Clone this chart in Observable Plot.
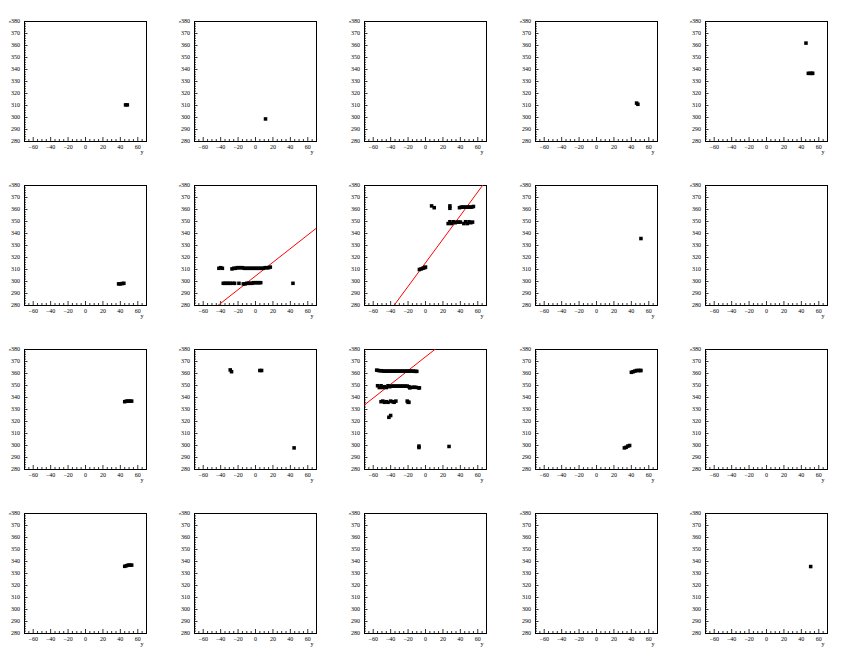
<!DOCTYPE html>
<html>
<head>
<meta charset="utf-8">
<script src="https://cdn.jsdelivr.net/npm/d3@7"></script>
<script src="https://cdn.jsdelivr.net/npm/@observablehq/plot@0.6"></script>
<style>
  html, body { margin: 0; padding: 0; background: #fff; }
  #canvas { position: relative; width: 851px; height: 656px; overflow: hidden; background: #fff; }
  .pad { position: absolute; }
</style>
</head>
<body>
<div id="canvas"></div>
<script>
// Hit positions per event window: [y, x] pairs, one array per pad (row-major, 5 x 4).
const hits00 = [[46, 310.5], [48, 310.5]];
const hits01 = [[11.5, 298.8]];
const hits02 = [];
const hits03 = [[46, 312], [47.5, 311]];
const hits04 = [[45.3, 362], [48, 336.8], [50, 336.8], [52, 336.8], [53, 336.8]];

const hits10 = [[38, 298], [40, 298], [42, 298.3], [44, 298.5]];
const hits11 = [
  [-42, 311], [-40, 311.5], [-38, 311],
  [-27, 310.5], [-25, 311], [-23, 311], [-21, 311.5], [-19, 311.5], [-17, 311.5], [-15, 311.5],
  [-13, 311], [-11, 311], [-9, 311], [-7, 311], [-5, 311], [-3, 311], [-1, 311], [1, 311],
  [3, 311], [5, 311], [7, 311], [9, 311], [11, 311.5], [13, 311.5], [15, 311.5], [17, 312],
  [-37, 298.5], [-35, 298.5], [-33, 298.5], [-31, 298.5], [-29, 298.5], [-26, 298.5], [-24, 298.5],
  [-19, 298.5], [-14, 298], [-12, 298], [-10, 298.5], [-8, 298.5], [-6, 298.5], [-4, 298.5],
  [-2, 299], [0, 299], [2, 299], [4, 299], [6, 299],
  [43, 298.5]
];
const hits12 = [
  [-7, 310], [-5, 310.5], [-3, 311], [-1, 311.5], [0, 312],
  [7, 363], [10, 361.5], [28, 361], [28, 363],
  [39, 361.5], [41, 362], [43, 362], [45, 362], [47, 362], [49, 362], [51, 362], [53, 362], [55, 362.5],
  [26, 348.3], [28, 349.8], [30, 348.3], [32, 349.8], [34, 349], [36, 349.5], [38, 349.5], [40, 349.5],
  [44, 348.3], [46, 349.8], [48, 348.3], [50, 349.8], [52, 349], [54, 349.5]
];
const hits13 = [[51, 335.8]];
const hits14 = [];

const hits20 = [[45, 336.5], [47, 337], [49, 337], [51, 337], [53, 337]];
const hits21 = [[-29, 363], [-27.5, 361.5], [5, 362.5], [7, 362.5], [44.3, 298]];
const hits22 = [
  [-56, 362.8], [-54, 362.5], [-52, 362.3], [-50, 362.3], [-48, 362], [-46, 362], [-44, 362],
  [-42, 362], [-40, 362], [-38, 362], [-36, 362], [-34, 362], [-32, 362], [-30, 362], [-28, 362],
  [-26, 362], [-24, 362], [-22, 362], [-20, 362], [-18, 362], [-16, 362], [-14, 362], [-12, 361.8], [-10, 361.8],
  [-55, 349.8], [-53, 348.3], [-51, 349.8], [-49, 348.3], [-47, 349], [-45, 348.3], [-43, 349.8],
  [-41, 349], [-39, 349.5], [-37, 349.5], [-35, 349.5], [-33, 349.5], [-31, 349.5], [-29, 349.5],
  [-27, 349.5], [-25, 349.5], [-23, 349.5], [-21, 349.5], [-19, 349], [-18, 348], [-15, 348.5],
  [-13, 348.5], [-11, 348.5], [-8, 348], [-7, 348],
  [-51, 336.5], [-49, 337], [-47, 336], [-45, 336.5], [-43, 336],
  [-40, 337], [-38, 336.5], [-36, 336], [-34, 337],
  [-21, 337], [-20, 336], [-19, 336],
  [-42, 323.5], [-40, 325],
  [-7.5, 298.3], [-7.5, 299.5], [27, 299.2]
];
const hits23 = [
  [40, 361], [42, 361.5], [44, 362], [46, 362.5], [48, 362.5], [50, 362.5], [51, 362.5],
  [32, 298], [34, 298.5], [36, 299.5], [38, 300]
];
const hits24 = [];

const hits30 = [[45, 336], [47, 336.5], [49, 337], [51, 337], [53, 337]];
const hits31 = [];
const hits32 = [];
const hits33 = [];
const hits34 = [[50.7, 335.8]];

// Straight-line track fits x = intercept + slope * y, keyed by pad index.
const fitPads = [6, 7, 12];
const fitIntercepts = [304.6, 315.6, 373.9];
const fitSlopes = [0.57, 0.984, 0.572];

// Axis definitions
const yDomain = [-70, 70];
const xDomain = [280, 380];
const yMajorTicks = [-60, -40, -20, 0, 20, 40, 60];
const yMinorTicks = [-70, -65, -55, -50, -45, -35, -30, -25, -15, -10, -5, 5, 10, 15, 25, 30, 35, 45, 50, 55, 65, 70];
const xMajorTicks = [280, 290, 300, 310, 320, 330, 340, 350, 360, 370, 380];
const xMinorTicks = [282, 284, 286, 288, 292, 294, 296, 298, 302, 304, 306, 308, 312, 314, 316, 318,
  322, 324, 326, 328, 332, 334, 336, 338, 342, 344, 346, 348, 352, 354, 356, 358,
  362, 364, 366, 368, 372, 374, 376, 378];

const pads = [
  hits00, hits01, hits02, hits03, hits04,
  hits10, hits11, hits12, hits13, hits14,
  hits20, hits21, hits22, hits23, hits24,
  hits30, hits31, hits32, hits33, hits34
];

const nCols = 5, canvasW = 851, padH = 164;
const padW = 170;
const mL = 24, mR = 24, mT = 21, mB = 23;
const innerW = padW - mL - mR, innerH = padH - mT - mB;

const canvas = document.getElementById("canvas");

pads.forEach((hits, i) => {
  const col = i % nCols, row = Math.floor(i / nCols);
  const points = hits.map(([y, x]) => ({y, x}));
  const fi = fitPads.indexOf(i);
  const fitLine = fi < 0 ? [] : yDomain.map(y => ({y, x: fitIntercepts[fi] + fitSlopes[fi] * y}));

  const chart = Plot.plot({
    width: padW,
    height: padH,
    marginLeft: mL, marginRight: mR, marginTop: mT, marginBottom: mB,
    style: {fontFamily: "'Liberation Serif', 'DejaVu Serif', serif", fontSize: "6px", background: "transparent", color: "black", overflow: "visible"},
    x: {domain: yDomain, ticks: yMajorTicks, tickSize: 0, tickPadding: 3, label: null},
    y: {domain: xDomain, ticks: xMajorTicks, tickSize: 0, tickPadding: 4.5, label: null},
    marks: [
      // inward-facing ticks along the bottom and left edges
      Plot.ruleX(yMinorTicks, {stroke: "black", strokeWidth: 0.8, insetTop: innerH - 2}),
      Plot.ruleX(yMajorTicks, {stroke: "black", strokeWidth: 0.8, insetTop: innerH - 4}),
      Plot.ruleY(xMinorTicks, {stroke: "black", strokeWidth: 0.8, insetRight: innerW - 2}),
      Plot.ruleY(xMajorTicks, {stroke: "black", strokeWidth: 0.8, insetRight: innerW - 3.5}),
      Plot.frame({stroke: "black", strokeWidth: 1}),
      Plot.line(fitLine, {x: "y", y: "x", stroke: "#ff0000", strokeWidth: 1, clip: true}),
      Plot.dot(points, {x: "y", y: "x", symbol: "square", r: 2, fill: "black"}),
      Plot.text(["y"], {frameAnchor: "bottom-right", dx: -3, dy: 12, fill: "black"}),
      Plot.text(["x"], {frameAnchor: "top-left", dx: -17, dy: 1.5, rotate: -90, fontSize: 5, fill: "black"})
    ]
  });

  const wrap = document.createElement("div");
  wrap.className = "pad";
  wrap.style.left = Math.round(col * canvasW / nCols) + "px";
  wrap.style.top = (row * padH) + "px";
  wrap.appendChild(chart);
  canvas.appendChild(wrap);
});
</script>
</body>
</html>
